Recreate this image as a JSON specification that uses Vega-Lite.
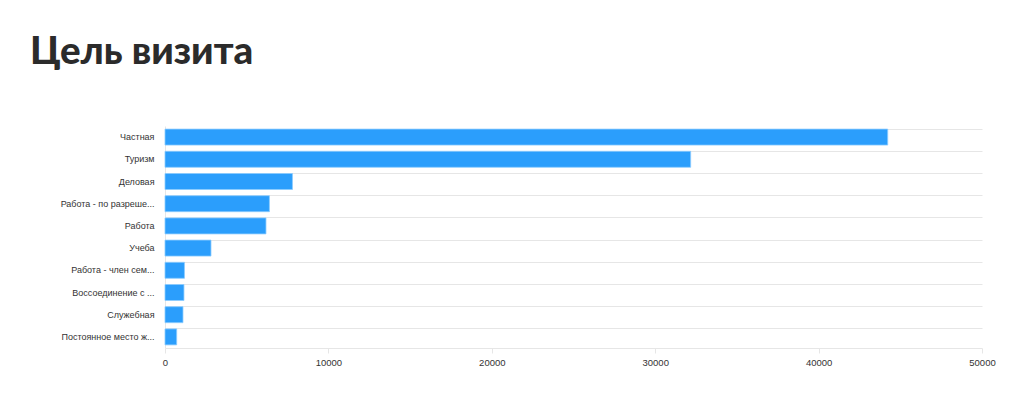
{
  "$schema": "https://vega.github.io/schema/vega-lite/v6.json",
  "autosize": {"type": "none"},
  "width": 817,
  "height": 222,
  "padding": {"left": 165, "top": 126, "right": 28, "bottom": 58},
  "background": "#ffffff",
  "title": {
    "text": "Цель визита",
    "font": "Lato",
    "fontSize": 38.5,
    "fontWeight": 900,
    "color": "#2b2b2b",
    "anchor": "start",
    "frame": "group",
    "dx": -135,
    "baseline": "alphabetic",
    "offset": 24
  },
  "data": {
    "values": [
      {"purpose": "Частная", "count": 44230},
      {"purpose": "Туризм", "count": 32170},
      {"purpose": "Деловая", "count": 7800},
      {"purpose": "Работа - по разреше...", "count": 6390},
      {"purpose": "Работа", "count": 6180},
      {"purpose": "Учеба", "count": 2815},
      {"purpose": "Работа - член сем...", "count": 1190},
      {"purpose": "Воссоединение с ...", "count": 1160},
      {"purpose": "Служебная", "count": 1100},
      {"purpose": "Постоянное место ж...", "count": 715}
    ]
  },
  "mark": {"type": "bar", "color": "#2b9efc", "stroke": "#8ccbff", "strokeWidth": 0.8},
  "encoding": {
    "y": {
      "field": "purpose",
      "type": "nominal",
      "sort": null,
      "scale": {"paddingInner": 0.28, "paddingOuter": 0.14},
      "axis": {
        "title": null,
        "ticks": false,
        "domain": true,
        "domainColor": "#e6e6e6",
        "grid": true,
        "gridColor": "#e6e6e6",
        "bandPosition": 0,
        "labelFont": "Liberation Sans",
        "labelFontSize": 9,
        "labelColor": "#333333",
        "labelPadding": 11,
        "labelLimit": 200
      }
    },
    "x": {
      "field": "count",
      "type": "quantitative",
      "scale": {"domain": [0, 50000], "nice": false},
      "axis": {
        "title": null,
        "grid": false,
        "values": [0, 10000, 20000, 30000, 40000, 50000],
        "format": "d",
        "domainColor": "#e6e6e6",
        "tickColor": "#e6e6e6",
        "tickSize": 5,
        "labelFont": "Liberation Sans",
        "labelFontSize": 9.5,
        "labelColor": "#333333",
        "labelPadding": 4,
        "labelFlush": false
      }
    }
  },
  "config": {"view": {"stroke": null}}
}
